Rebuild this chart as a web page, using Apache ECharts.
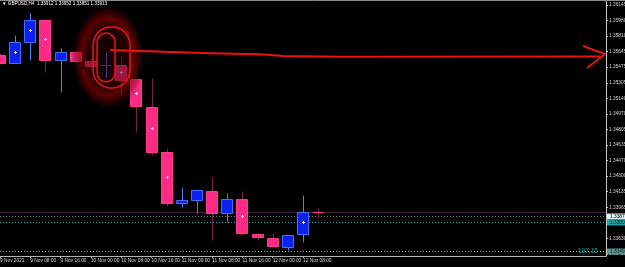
<!DOCTYPE html>
<html>
<head>
<meta charset="utf-8">
<script src="https://cdn.jsdelivr.net/npm/echarts@6/dist/echarts.min.js"></script>
<style>
html,body{margin:0;padding:0;background:#000;}
#c{width:625px;height:267px;}
</style>
</head>
<body>
<div id="c"></div>
<script>
// ---------------- DATA ----------------
const SYMBOL = 'GBPUSD,H4';
const CATEGORIES = [
  '9 Nov 00:00','9 Nov 04:00','9 Nov 08:00','9 Nov 12:00','9 Nov 16:00','9 Nov 20:00',
  '10 Nov 00:00','10 Nov 04:00','10 Nov 08:00','10 Nov 12:00','10 Nov 16:00','10 Nov 20:00',
  '11 Nov 00:00','11 Nov 04:00','11 Nov 08:00','11 Nov 12:00','11 Nov 16:00','11 Nov 20:00',
  '12 Nov 00:00','12 Nov 04:00','12 Nov 08:00','12 Nov 12:00','12 Nov 16:00','12 Nov 20:00',
  '15 Nov 00:00','15 Nov 04:00','15 Nov 08:00','15 Nov 12:00','15 Nov 16:00','15 Nov 20:00',
  '16 Nov 00:00','16 Nov 04:00','16 Nov 08:00','16 Nov 12:00','16 Nov 16:00','16 Nov 20:00',
  '17 Nov 00:00','17 Nov 04:00','17 Nov 08:00','17 Nov 12:00','17 Nov 16:00'
];
const X_LABELS = ['9 Nov 2021','9 Nov 08:00','9 Nov 16:00','10 Nov 00:00','10 Nov 08:00','10 Nov 16:00',
  '11 Nov 00:00','11 Nov 08:00','11 Nov 16:00','12 Nov 00:00','12 Nov 08:00'];

const OPEN  = [1.35606,1.35520,1.35746,1.35983,1.35552,1.35638,1.35541,1.35482,1.35498,1.35347,1.35045,
               1.34560,1.34011,1.34043,1.34140,1.33903,1.34054,1.33676,1.33633,1.33536,1.33676,1.33912];
const HIGH  = [1.35628,1.35822,1.36059,1.35990,1.35681,1.35645,1.35584,1.35638,1.35606,1.35352,1.35358,
               1.34604,1.34183,1.34155,1.34291,1.34118,1.34140,1.33680,1.33687,1.33670,1.34097,1.33952];
const LOW   = [1.35509,1.35515,1.35552,1.35423,1.35207,1.35535,1.35444,1.35358,1.35175,1.34776,1.34528,
               1.33978,1.33967,1.33903,1.33612,1.33806,1.33666,1.33612,1.33540,1.33504,1.33590,1.33851];
const CLOSE = [1.35520,1.35746,1.35983,1.35552,1.35638,1.35541,1.35487,1.35493,1.35337,1.35056,1.34560,
               1.34011,1.34043,1.34151,1.33903,1.34054,1.33687,1.33644,1.33547,1.33666,1.33914,1.33913];
// small "+" indicator marks inside some candles
const MARKERS = [null,1.35638,1.35876,1.35779,null,null,null,null,1.35423,1.35196,1.34819,
                 1.34291,null,null,null,null,1.33870,null,null,null,1.33806,null];

const Y_TICKS = [1.36145,1.35980,1.35810,1.35645,1.35475,1.35305,1.35140,1.34970,1.34805,
                 1.34635,1.34470,1.34300,1.34135,1.33965,1.33630,1.33460];
const Y_MIN = 1.33439, Y_MAX = 1.36188;

// horizontal price levels: bid line + three dotted levels
const LEVELS = [1.33913, 1.33870, 1.33806, 1.33496];
const TIMER_TEXT = '197:15';

// ---------------- STYLE ----------------
const FONT = 'Liberation Sans';
const UP = {fill:'#0c20f0', stroke:'#3f70ff', wick:'#4d82ff'};
const DN = {fill:'#ff2a86', stroke:'#ff3a90', wick:'#7a2840'};
const LEVEL_STYLE = [
  {stroke:'#3c1e40', dash:null, bg:null, fg:null},
  {stroke:'#4e8c8c', dash:[1, 2], bg:'#e4f2f2', fg:'#000000'},
  {stroke:'#1ea6a6', dash:[1, 2], bg:'#1ea0a0', fg:'#002828'},
  {stroke:'#a8a8a8', dash:[1, 2], bg:'#5a9696', fg:'#002020'}
];

const chart = echarts.init(document.getElementById('c'), null, {renderer:'canvas', width:625, height:267});

const candleData = OPEN.map((o, i) => [i, o, CLOSE[i], LOW[i], HIGH[i]]);
const markerData = MARKERS.map((v, i) => v == null ? null : [i, v]).filter(Boolean);
const levelData = LEVELS.map((v, i) => [i, v]);

function renderCandle(params, api) {
  const i = api.value(0), o = api.value(1), c = api.value(2), l = api.value(3), h = api.value(4);
  const pO = api.coord([i, o]), pC = api.coord([i, c]), pL = api.coord([i, l]), pH = api.coord([i, h]);
  const cx = Math.round(pO[0]) + 0.5;
  const flat = Math.abs(c - o) < 0.00002;
  const up = !flat && c > o;
  const s = up ? UP : DN;
  const yTop = Math.round(Math.min(pO[1], pC[1])) + 0.5;
  const yBot = Math.round(Math.max(pO[1], pC[1])) + 0.5;
  const children = [{
    type:'line',
    shape:{x1:cx, y1:Math.round(pH[1]) + 0.5, x2:cx, y2:Math.round(pL[1]) + 0.5},
    style:{stroke:s.wick, lineWidth:1}
  }];
  if (yBot - yTop < 1.5) {
    children.push({type:'line', shape:{x1:cx - 6, y1:yTop, x2:cx + 5, y2:yTop}, style:{stroke:s.stroke, lineWidth:1}});
  } else {
    children.push({type:'rect', shape:{x:cx - 6, y:yTop, width:11, height:yBot - yTop},
      style:{fill:s.fill, stroke:s.stroke, lineWidth:1}});
  }
  return {type:'group', children};
}

function renderMarker(params, api) {
  const p = api.coord([api.value(0), api.value(1)]);
  const x = Math.round(p[0]) + 0.5, y = Math.round(p[1]) + 0.5;
  return {type:'group', children:[
    {type:'line', shape:{x1:x - 1.5, y1:y, x2:x + 1.5, y2:y}, style:{stroke:'#e6e6ff', lineWidth:1}},
    {type:'line', shape:{x1:x, y1:y - 1.5, x2:x, y2:y + 1.5}, style:{stroke:'#e6e6ff', lineWidth:1}}
  ]};
}

function renderLevel(params, api) {
  const idx = api.value(0), v = api.value(1);
  const cs = params.coordSys;
  const y = Math.round(api.coord([0, v])[1]) + 0.5;
  const st = LEVEL_STYLE[idx];
  const children = [{type:'line', shape:{x1:cs.x, y1:y, x2:cs.x + cs.width, y2:y},
    style:{stroke:st.stroke, lineWidth:1, lineDash:st.dash || null}}];
  if (st.bg) {
    const lx = cs.x + cs.width + 1;
    children.push({type:'rect', shape:{x:lx, y:y - 3, width:30, height:6}, style:{fill:st.bg}});
    children.push({type:'text', x:lx + 3, y:y, style:{text:v.toFixed(5), fill:st.fg,
      font:'4.8px "' + FONT + '"', verticalAlign:'middle', align:'left'}});
  }
  return {type:'group', children};
}

const showX = (i) => i % 2 === 0 && i / 2 < X_LABELS.length;

const option = {
  backgroundColor:'#000',
  animation:false,
  grid:{left:0, right:19, top:1, bottom:11, containLabel:false, outerBoundsMode:'none'},
  xAxis:{
    type:'category', data:CATEGORIES, boundaryGap:false,
    axisLine:{show:true, lineStyle:{color:'#b4b4b4', width:1}},
    axisTick:{show:true, interval:(i) => showX(i), length:2, lineStyle:{color:'#b4b4b4'}},
    axisLabel:{show:true, interval:(i) => showX(i), align:'left', margin:2,
      formatter:(v, i) => showX(i) ? X_LABELS[i / 2] : '',
      fontFamily:FONT, fontSize:4.8, color:'#d4d4d4'},
    splitLine:{show:false}
  },
  yAxis:{
    type:'value', position:'right', min:Y_MIN, max:Y_MAX, scale:true,
    axisLine:{show:true, lineStyle:{color:'#c8c8c8', width:1}},
    axisTick:{show:true, customValues:Y_TICKS, length:2, lineStyle:{color:'#c8c8c8'}},
    axisLabel:{show:true, customValues:Y_TICKS, formatter:(v) => v.toFixed(5), margin:3,
      fontFamily:FONT, fontSize:4.8, color:'#d4d4d4'},
    splitLine:{show:false}
  },
  series:[
    {type:'custom', data:levelData, renderItem:renderLevel, encode:{y:1}, clip:false, z:1, silent:true},
    {type:'custom', data:candleData, renderItem:renderCandle, encode:{x:0, y:[1, 2, 3, 4]}, clip:true, z:3, silent:true},
    {type:'custom', data:markerData, renderItem:renderMarker, encode:{x:0, y:1}, clip:true, z:4, silent:true}
  ]
};
chart.setOption(option);

// ---------------- ANNOTATIONS (hand-drawn red highlight + arrow), anchored to the doji candle ----------------
const last = OPEN.length - 1;
const A = chart.convertToPixel({gridIndex:0}, [7, 1.35638]);
const ax = A[0], ay = A[1];
const right = chart.convertToPixel({gridIndex:0}, [CATEGORIES.length - 1, LEVELS[3]])[0];
const cY = chart.convertToPixel({gridIndex:0}, [0, LEVELS[3]])[1];
const red = '#f01414';

chart.setOption({
  graphic:[
    {type:'line', shape:{x1:0, y1:0.5, x2:625, y2:0.5}, style:{stroke:'#8a8a8a', lineWidth:1}, z:50},
    {type:'text', x:2, y:1.5, z:50, style:{
      text:'\u25BC ' + SYMBOL + '  ' + [OPEN[last], HIGH[last], LOW[last], CLOSE[last]].map(v => v.toFixed(5)).join(' '),
      fill:'#ffffff', font:'4.6px "' + FONT + '"'}},
    {type:'text', x:right - 28, y:cY - 3.5, z:50, style:{text:TIMER_TEXT, fill:'#1ea8a8', font:'6.5px "' + FONT + '"'}},
    {type:'circle', x:ax + 2, y:ay + 5, scaleY:1.45, shape:{cx:0, cy:0, r:37}, z:60, silent:true,
      style:{fill:{type:'radial', x:0.5, y:0.5, r:0.5, colorStops:[
        {offset:0, color:'rgba(40,0,0,0.5)'},
        {offset:0.5, color:'rgba(60,0,0,0.5)'},
        {offset:0.72, color:'rgba(140,0,0,0.65)'},
        {offset:0.86, color:'rgba(100,0,0,0.4)'},
        {offset:1, color:'rgba(0,0,0,0)'}]}}},
    {type:'rect', shape:{x:ax - 13, y:ay - 25, width:37, height:61, r:18}, z:61, silent:true,
      style:{fill:'none', stroke:red, lineWidth:1.5}},
    {type:'rect', shape:{x:ax - 9, y:ay - 19, width:18, height:49, r:9}, z:61, silent:true,
      style:{fill:'none', stroke:red, lineWidth:1.5}},
    {type:'polyline', z:62, silent:true, shape:{points:[
      [ax + 4, ay - 2], [ax + 104, ay + 1.3], [ax + 154, ay + 2.3], [ax + 177, ay + 4],
      [ax + 234, ay + 4.7], [right - 6, ay + 4.5]]},
      style:{stroke:'#ee1111', lineWidth:2, fill:'none'}},
    {type:'polyline', z:62, silent:true, shape:{points:[[right - 23, ay - 6], [right - 1, ay + 2], [right - 19, ay + 16]]},
      style:{stroke:'#ee1111', lineWidth:2, fill:'none'}}
  ]
});
</script>
</body>
</html>
